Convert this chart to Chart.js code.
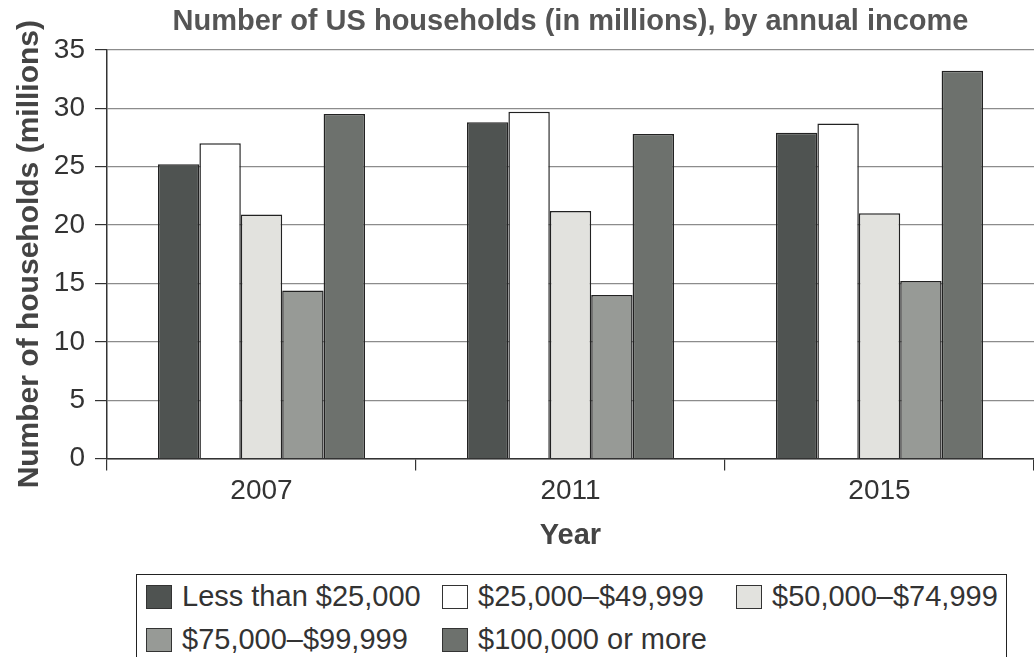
<!DOCTYPE html>
<html>
<head>
<meta charset="utf-8">
<script src="https://cdn.jsdelivr.net/npm/chart.js@4.4.1/dist/chart.umd.min.js"></script>
<style>
  html, body { margin: 0; padding: 0; background: #fff; overflow: hidden; }
  #wrap { position: absolute; left: 0; top: 0; width: 1034px; height: 560px; }
  #legenda {
    position: absolute; left: 136px; top: 574px; width: 871px; height: 100px;
    border: 1.5px solid #222; box-sizing: border-box;
    font-family: "Liberation Sans", Arial, sans-serif; font-size: 29px; color: #333;
    display: grid; grid-template-columns: 296px 294px auto; grid-auto-rows: 43px;
    padding: 0 0 0 9px; align-items: center;
  }
  #legenda .item { display: flex; align-items: center; white-space: nowrap; }
  #legenda .kw { width: 26px; height: 24px; border: 1.5px solid #333; margin-right: 10px; box-sizing: border-box; flex: none; }
</style>
</head>
<body>
<div id="wrap"><canvas id="wykres"></canvas></div>
<div id="legenda"></div>
<script>
// lata na osi X
const lata = ["2007", "2011", "2015"]
// grupy dochodu
const grupy = ["Less than $25,000", "$25,000\u2013$49,999", "$50,000\u2013$74,999", "$75,000\u2013$99,999", "$100,000 or more"]
// wartości w milionach gospodarstw
const ponizej25 = [25.2, 28.8, 27.9]
const od25do50 = [27.0, 29.7, 28.7]
const od50do75 = [20.9, 21.2, 21.0]
const od75do100 = [14.4, 14.0, 15.2]
const powyzej100 = [29.5, 27.8, 33.2]
const kolory = ["#4f5351", "#ffffff", "#e2e2de", "#979a96", "#6d716d"]
const wartosci = [ponizej25, od25do50, od50do75, od75do100, powyzej100]

const font = "'Liberation Sans', Arial, sans-serif"

const datasets = grupy.map((g, i) => ({
    label: g,
    data: wartosci[i],
    backgroundColor: kolory[i],
    borderColor: "#222",
    borderWidth: 1.5,
    barPercentage: 1,
    categoryPercentage: 0.67
}))

const chart = new Chart(document.getElementById("wykres"), {
    type: "bar",
    data: { labels: lata, datasets: datasets },
    options: {
        responsive: true,
        maintainAspectRatio: false,
        animation: false,
        layout: { padding: { left: 0, right: 0, top: 0, bottom: 7 } },
        plugins: {
            legend: { display: false },
            tooltip: { enabled: false },
            title: {
                display: true,
                fullSize: false,
                text: "Number of US households (in millions), by annual income",
                color: "#555",
                font: { family: font, size: 29, weight: "bold" },
                padding: { top: 5, bottom: 10 }
            }
        },
        scales: {
            x: {
                grid: { drawOnChartArea: false, tickLength: 12, tickColor: "#333", lineWidth: 1.2 },
                border: { color: "#333", width: 1.5 },
                ticks: { color: "#333", padding: 4, font: { family: font, size: 28 } },
                title: { display: true, text: "Year", color: "#444", padding: { top: 6, bottom: 0 }, font: { family: font, size: 29, weight: "bold" } }
            },
            y: {
                min: 0, max: 35,
                afterFit: (s) => { s.width = 107 },
                grid: { color: "#8c8c8c", lineWidth: 1.2, tickLength: 12, tickColor: "#333" },
                border: { color: "#333", width: 1.5 },
                ticks: { stepSize: 5, color: "#333", padding: 10, font: { family: font, size: 28 } },
                title: { display: true, text: "Number of households (millions)", color: "#444", padding: { top: 12, bottom: 0 }, font: { family: font, size: 30, weight: "bold" } }
            }
        }
    }
})

// legenda w HTML z ramką, zbudowana z datasetów wykresu
const leg = document.getElementById("legenda")
chart.data.datasets.forEach(ds => {
    const item = document.createElement("div")
    item.className = "item"
    const kw = document.createElement("span")
    kw.className = "kw"
    kw.style.background = ds.backgroundColor
    const t = document.createElement("span")
    t.textContent = ds.label
    item.appendChild(kw)
    item.appendChild(t)
    leg.appendChild(item)
})
</script>
</body>
</html>
